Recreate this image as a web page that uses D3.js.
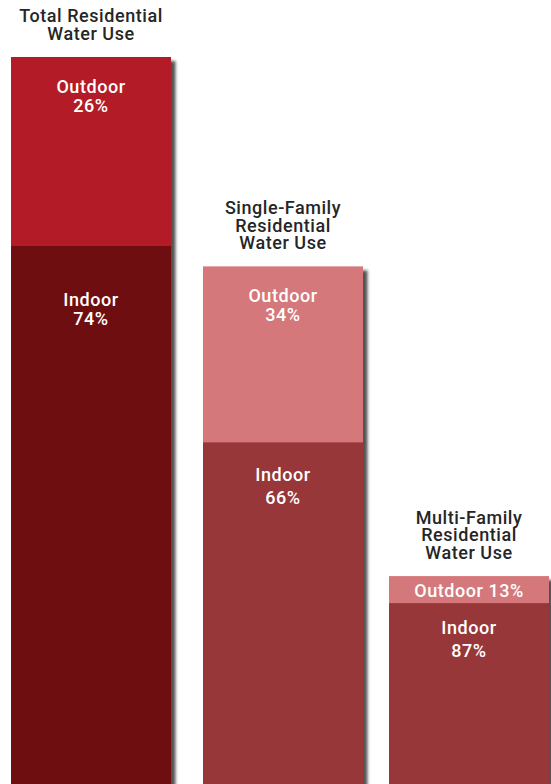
<!DOCTYPE html>
<html>
<head>
<meta charset="utf-8">
<script src="https://cdn.jsdelivr.net/npm/d3@7"></script>
<style>
  html, body { margin: 0; padding: 0; background: #fff; }
  svg { display: block; font-family: Roboto, "Noto Sans", sans-serif; }
</style>
</head>
<body>
<svg id="chart" width="551" height="784"></svg>
<script>
// Residential water use: share of total volume per sector, split indoor / outdoor
const sectors = ["total", "single", "multi"];
const titleLines = [
  ["Total Residential", "Water Use"],
  ["Single-Family", "Residential", "Water Use"],
  ["Multi-Family", "Residential", "Water Use"]
];
const sectorTotals = [100, 71.2, 28.6];       // relative volume, total residential = 100
const outdoorPct = [26, 34, 13];
const indoorPct = [74, 66, 87];
const outdoorColors = ["#b31f25", "#d4787b", "#d4787b"];
const indoorColors = ["#6e0e11", "#97373a", "#97373a"];

const W = 551, H = 784;
const barWidth = 160;
const svg = d3.select("#chart");

// Bars sit at fixed left edges across the width
const x = d3.scaleOrdinal().domain(sectors).range([11, 203, 389]);
const y = d3.scaleLinear().domain([0, 100]).range([H, 57]);

// soft drop shadow to the lower right of each bar
const defs = svg.append("defs");
const f = defs.append("filter").attr("id", "shadow")
  .attr("x", "-10%").attr("y", "-10%").attr("width", "130%").attr("height", "130%");
f.append("feDropShadow").attr("dx", 4.5).attr("dy", 4).attr("stdDeviation", 1.8)
  .attr("flood-color", "#000").attr("flood-opacity", 0.68);

const rows = sectors.map((s, i) => {
  const total = sectorTotals[i];
  const indoorVal = total * indoorPct[i] / 100;
  return {
    key: s, i,
    total, indoorVal,
    outdoorPct: outdoorPct[i], indoorPct: indoorPct[i],
    outdoorColor: outdoorColors[i], indoorColor: indoorColors[i],
    title: titleLines[i]
  };
});

// label placement within each segment (baseline offset from segment top, line gap)
const labelLayout = [
  { out: [35.6, 19], ind: [60, 19] },
  { out: [35.6, 19], ind: [38.3, 23.7] },
  { out: [20.7, 0], ind: [30.6, 23.4] }
];

// one <text> per block, one <tspan> per line
function multiline(sel, cx, firstBaseline, lines, gap, fill) {
  const t = sel.append("text")
    .attr("x", cx)
    .attr("y", firstBaseline)
    .attr("text-anchor", "middle")
    .attr("font-size", 18)
    .attr("font-weight", 500)
    .attr("letter-spacing", 0.55)
    .attr("fill", fill);
  t.selectAll("tspan").data(lines).join("tspan")
    .attr("x", cx)
    .attr("dy", (l, k) => k === 0 ? 0 : gap)
    .text(l => l);
  return t;
}

const g = svg.selectAll("g.bar").data(rows).join("g").attr("class", "bar");

// full bar with shadow (outdoor colour), indoor segment painted over its lower part
g.append("rect")
  .attr("x", d => x(d.key))
  .attr("y", d => y(d.total))
  .attr("width", barWidth)
  .attr("height", d => y(0) - y(d.total) + 20)
  .attr("fill", d => d.outdoorColor)
  .attr("filter", "url(#shadow)");

g.append("rect")
  .attr("x", d => x(d.key))
  .attr("y", d => y(d.indoorVal))
  .attr("width", barWidth)
  .attr("height", d => y(0) - y(d.indoorVal) + 20)
  .attr("fill", d => d.indoorColor);

g.each(function(d) {
  const sel = d3.select(this);
  const cx = x(d.key) + barWidth / 2;
  const top = y(d.total);
  const n = d.title.length;
  const titleGap = 17.4;

  // title above the bar
  multiline(sel, cx, top - 17.4 - (n - 1) * titleGap, d.title, titleGap, "#262626");

  // segment labels
  const lay = labelLayout[d.i];
  const inTop = y(d.indoorVal);
  const outLines = lay.out[1] === 0 ? [`Outdoor ${d.outdoorPct}%`] : ["Outdoor", `${d.outdoorPct}%`];
  multiline(sel, cx, top + lay.out[0], outLines, lay.out[1], "#fff");
  multiline(sel, cx, inTop + lay.ind[0], ["Indoor", `${d.indoorPct}%`], lay.ind[1], "#fff");
});
</script>
</body>
</html>
